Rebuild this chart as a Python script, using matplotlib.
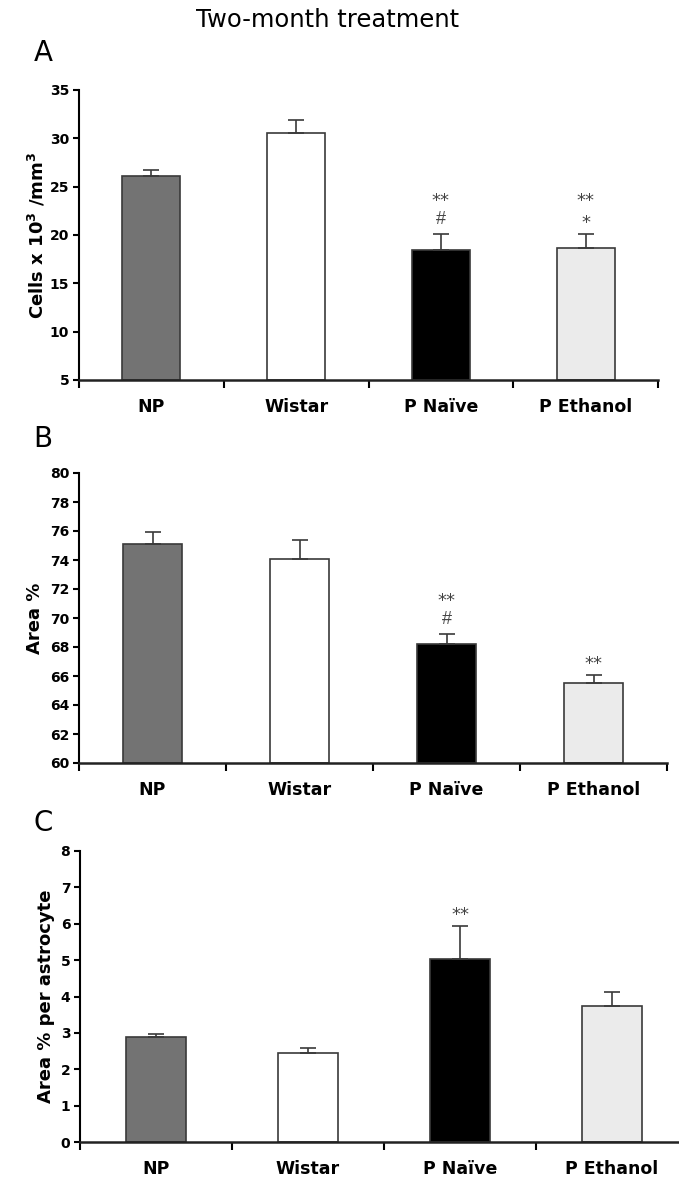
import numpy as np
import matplotlib.pyplot as plt

groups = ['NP', 'Wistar', 'P Naïve', 'P Ethanol']
bar_colors = ['#737373', '#ffffff', '#000000', '#ebebeb']

cells_mean = [26.1, 30.6, 18.4, 18.7]
cells_err = [0.6, 1.3, 1.7, 1.4]

area_mean = [75.1, 74.1, 68.2, 65.5]
area_err = [0.85, 1.3, 0.7, 0.6]

astro_mean = [2.88, 2.45, 5.03, 3.74]
astro_err = [0.09, 0.13, 0.9, 0.38]

# significance marks, bottom line first
marks_a = {2: ['#', '**'], 3: ['*', '**']}
marks_b = {2: ['#', '**'], 3: ['**']}
marks_c = {2: ['**']}

W, H = 679, 1182
fig = plt.figure(figsize=(W / 100, H / 100), dpi=100)


def px_axes(left, right, top, bottom):
    return fig.add_axes([left / W, 1 - bottom / H, (right - left) / W, (bottom - top) / H])


def draw_panel(ax, mean, err, ylim, step, ylabel, marks, ylabel_x):
    x = np.arange(len(groups))
    ax.bar(x, [m - ylim[0] for m in mean], bottom=ylim[0], width=0.4,
           color=bar_colors, edgecolor='#3a3a3a', linewidth=1.2, zorder=2)
    ax.errorbar(x, mean, yerr=[np.zeros(len(err)), err], fmt='none',
                ecolor='#3a3a3a', elinewidth=1.2, capsize=5.5, capthick=1.2, zorder=3)
    ax.set_xlim(-0.5, len(groups) - 0.5)
    ax.set_ylim(*ylim)
    ax.set_yticks(np.arange(ylim[0], ylim[1] + step / 2, step))
    ax.set_xticks(np.arange(len(groups) + 1) - 0.5)
    ax.set_xticklabels([])
    ax.set_xticks(x, minor=True)
    ax.set_xticklabels(groups, minor=True, fontsize=12.5, fontweight='bold')
    ax.tick_params(axis='x', which='major', length=6, width=1.5, direction='out')
    ax.tick_params(axis='x', which='minor', length=0, pad=13)
    ax.tick_params(axis='y', length=4, width=1.5, pad=3)
    for lab in ax.get_yticklabels():
        lab.set_fontweight('bold')
        lab.set_fontsize(10)
    for s in ['top', 'right']:
        ax.spines[s].set_visible(False)
    ax.spines['left'].set_linewidth(1.5)
    ax.spines['bottom'].set_linewidth(1.8)
    ax.spines['bottom'].set_color('#222222')
    ax.set_facecolor('none')

    # y label, placed by hand
    bb = ax.get_position()
    fig.text(ylabel_x / W, bb.y0 + bb.height / 2, ylabel, rotation=90,
             ha='center', va='center', fontsize=13, fontweight='bold')

    for i, lines in marks.items():
        top = mean[i] + err[i]
        for k, txt in enumerate(lines):
            centre = 16 + 22 * k
            if txt == '#':
                ax.annotate(txt, (i, top), xytext=(0, centre - 6), textcoords='offset pixels',
                            ha='center', va='baseline', fontsize=13, color='#444444',
                            family='Liberation Sans')
            else:
                ax.annotate(txt, (i, top), xytext=(0, centre - 10), textcoords='offset pixels',
                            ha='center', va='baseline', fontsize=13, color='#444444')


ax_a = px_axes(79, 658, 90, 380)
draw_panel(ax_a, cells_mean, cells_err, (5, 35), 5,
           r'Cells x 10$^{\mathbf{3}}$ /mm$^{\mathbf{3}}$', marks_a, 37)

ax_b = px_axes(79, 667, 473, 763)
draw_panel(ax_b, area_mean, area_err, (60, 80), 2, 'Area %', marks_b, 35)

ax_c = px_axes(80, 688, 851, 1142)
draw_panel(ax_c, astro_mean, astro_err, (0, 8), 1, 'Area % per astrocyte', marks_c, 46)

fig.text(328 / W, 1 - 20 / H, 'Two-month treatment', ha='center', va='center', fontsize=17.5)
for letter, y in [('A', 53), ('B', 439), ('C', 823)]:
    fig.text(43 / W, 1 - y / H, letter, ha='center', va='center', fontsize=20)

fig.savefig('out.png', dpi=100)
